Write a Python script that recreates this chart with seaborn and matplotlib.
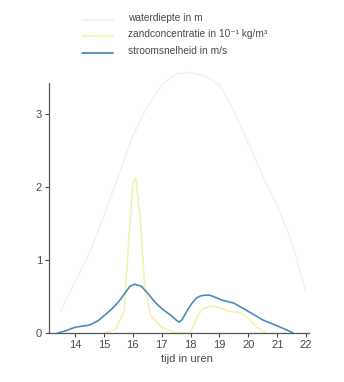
import matplotlib
matplotlib.use("Agg")
import matplotlib.pyplot as plt
import seaborn as sns
import pandas as pd

# waterdiepte in m
t_water = [13.5, 14.0, 14.5, 15.0, 15.5, 16.0, 16.5, 17.0, 17.5, 18.0, 18.5, 19.0, 19.5, 20.0, 20.5, 21.0, 21.5, 22.0]
water = [0.3, 0.7, 1.1, 1.6, 2.15, 2.7, 3.1, 3.4, 3.55, 3.57, 3.52, 3.4, 3.05, 2.6, 2.15, 1.75, 1.25, 0.55]

# zandconcentratie in 10^-1 kg/m3
t_zand = [15.0, 15.4, 15.7, 15.85, 16.0, 16.1, 16.25, 16.4, 16.6, 17.0, 17.5, 18.0, 18.2, 18.4, 18.7, 19.0, 19.3, 19.7, 20.0, 20.3, 20.6]
zand = [0.0, 0.05, 0.3, 1.2, 2.05, 2.12, 1.6, 0.7, 0.25, 0.08, 0.0, 0.0, 0.2, 0.33, 0.37, 0.35, 0.3, 0.28, 0.2, 0.08, 0.0]

# stroomsnelheid in m/s
t_stroom = [13.4, 13.66, 14.0, 14.5, 14.8, 15.1, 15.35, 15.55, 15.75, 15.9, 16.07, 16.3, 16.55, 16.8, 17.05, 17.3, 17.5, 17.6, 17.7, 17.9, 18.05, 18.2, 18.35, 18.5, 18.65, 18.8, 19.1, 19.5, 19.9, 20.2, 20.5, 21.0, 21.4, 21.55]
stroom = [0.0, 0.03, 0.08, 0.11, 0.17, 0.27, 0.36, 0.45, 0.56, 0.64, 0.67, 0.64, 0.53, 0.41, 0.32, 0.25, 0.18, 0.15, 0.18, 0.32, 0.41, 0.48, 0.51, 0.52, 0.52, 0.5, 0.45, 0.41, 0.32, 0.25, 0.18, 0.1, 0.03, 0.0]

labels = ["waterdiepte in m", "zandconcentratie in 10\u207b\u00b9 kg/m\u00b3", "stroomsnelheid in m/s"]
x_ticks = [14, 15, 16, 17, 18, 19, 20, 21, 22]
y_ticks = [0, 1, 2, 3]

sns.set_style("white")
plt.rcParams['font.family'] = ['Liberation Sans', 'DejaVu Sans']

fig = plt.figure(figsize=(3.44, 3.82), dpi=100)
ax = fig.add_axes([0.1424, 0.128, 0.756, 0.688])

colors = ["#f1f1f6", "#f2f3b0", "#4a8cb6"]
dfs = [pd.DataFrame({"t": t_water, "v": water}),
       pd.DataFrame({"t": t_zand, "v": zand}),
       pd.DataFrame({"t": t_stroom, "v": stroom})]
lws = [1.0, 1.2, 1.2]
for df, c, lw in zip(dfs, colors, lws):
    sns.lineplot(data=df, x="t", y="v", ax=ax, color=c, lw=lw, sort=False, clip_on=False)

ax.set_xlim(13.1, 22.1)
ax.set_ylim(0, 3.6)
ax.set_xticks(x_ticks)
ax.set_yticks(y_ticks)
ax.set_xticklabels([str(x) for x in x_ticks])
ax.set_yticklabels([str(y) for y in y_ticks])
ax.set_xlabel("tijd in uren", fontsize=8, color="#4a4a4a", labelpad=3)
ax.xaxis.label.set_x(0.53)
ax.set_ylabel("")
for s in ["top", "right"]:
    ax.spines[s].set_visible(False)
ax.spines["left"].set_bounds(0, 3.42)
for s in ["left", "bottom"]:
    ax.spines[s].set_color("#555555")
    ax.spines[s].set_linewidth(0.9)
ax.tick_params(axis="both", labelsize=8, colors="#4a4a4a", length=3, width=0.8, pad=2, direction="out", left=True, bottom=True)

# legend drawn as figure-level lines + text
ly = [0.953, 0.910, 0.867]
for y, c, lab in zip(ly, colors, labels):
    fig.add_artist(plt.Line2D([0.238, 0.328], [y - 0.005, y - 0.005], color=c, lw=1.3, transform=fig.transFigure))
    fig.text(0.372, y, lab, fontsize=7.3, color="#4a4a4a", va="center", ha="left")

fig.savefig("out.png", dpi=100)
